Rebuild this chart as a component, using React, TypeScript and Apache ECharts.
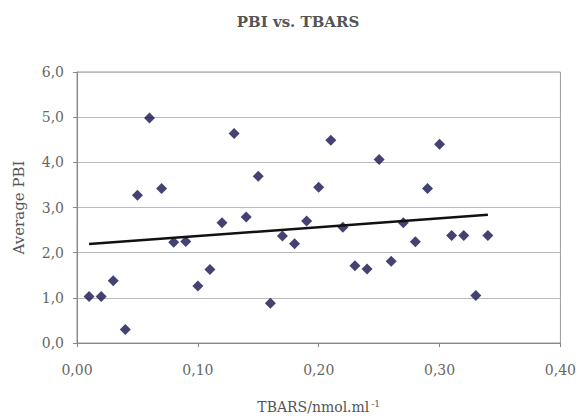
import React, { useEffect, useRef } from "react";
import * as echarts from "echarts";

const tbars = [0.01, 0.02, 0.03, 0.04, 0.05, 0.06, 0.07, 0.08, 0.09, 0.10, 0.11, 0.12, 0.13, 0.14, 0.15, 0.16, 0.17, 0.18, 0.19, 0.20, 0.21, 0.22, 0.23, 0.24, 0.25, 0.26, 0.27, 0.28, 0.29, 0.30, 0.31, 0.32, 0.33, 0.34];
const pbi = [1.03, 1.03, 1.38, 0.3, 3.27, 4.98, 3.42, 2.23, 2.25, 1.26, 1.63, 2.66, 4.64, 2.79, 3.69, 0.88, 2.37, 2.2, 2.7, 3.45, 4.49, 2.56, 1.71, 1.64, 4.06, 1.81, 2.66, 2.24, 3.42, 4.4, 2.38, 2.38, 1.05, 2.38];
const trendX = [0.01, 0.34];
const trendY = [2.19, 2.84];

const serif = "DejaVu Serif";

export default function App() {
  const ref = useRef<HTMLDivElement>(null);
  useEffect(() => {
    const chart = echarts.init(ref.current!, null, { renderer: "svg" });
    chart.setOption({
      animation: false,
      backgroundColor: "#ffffff",
      title: {
        text: "PBI vs. TBARS",
        left: 293,
        top: 9,
        textAlign: "center",
        textStyle: { fontFamily: serif, fontSize: 15, fontWeight: "bold", color: "#555" },
      },
      grid: {
        left: 77,
        right: 17,
        top: 72,
        bottom: 74,
        show: true,
        borderColor: "#999",
        borderWidth: 1,
      },
      xAxis: {
        type: "value",
        min: 0,
        max: 0.4,
        interval: 0.1,
        name: "TBARS/nmol.ml{sup|-1}",
        nameLocation: "middle",
        nameGap: 56,
        nameTextStyle: {
          fontFamily: serif,
          fontSize: 14,
          lineHeight: 16,
          color: "#555",
          rich: {
            sup: { fontFamily: serif, fontSize: 9, lineHeight: 16, color: "#555", verticalAlign: "top", padding: [0, 0, 0, 2] },
          },
        },
        axisLine: { show: true, lineStyle: { color: "#888" } },
        axisTick: { show: true, inside: false, length: 4, lineStyle: { color: "#888" } },
        splitLine: { show: false },
        axisLabel: {
          fontFamily: serif,
          fontSize: 14,
          color: "#666",
          margin: 20,
          formatter: (v: number) => v.toFixed(2).replace(".", ","),
        },
      },
      yAxis: {
        type: "value",
        min: 0,
        max: 6,
        interval: 1,
        name: "Average PBI",
        nameLocation: "middle",
        nameGap: 51,
        nameTextStyle: { fontFamily: serif, fontSize: 15, color: "#555" },
        axisLine: { show: true, lineStyle: { color: "#888" } },
        axisTick: { show: true, inside: false, length: 4, lineStyle: { color: "#888" } },
        splitLine: { show: true, lineStyle: { color: "#bbb" } },
        axisLabel: {
          fontFamily: serif,
          fontSize: 14,
          color: "#666",
          margin: 13,
          formatter: (v: number) => v.toFixed(1).replace(".", ","),
        },
      },
      series: [
        {
          type: "scatter",
          symbol: "diamond",
          symbolSize: 11,
          itemStyle: { color: "#14134f" },
          data: tbars.map((x, i) => [x, pbi[i]]),
          z: 3,
        },
        {
          type: "line",
          showSymbol: false,
          symbol: "none",
          lineStyle: { color: "#111", width: 2.5 },
          data: trendX.map((x, i) => [x, trendY[i]]),
          z: 4,
        },
      ],
    });
    return () => chart.dispose();
  }, []);
  return <div ref={ref} style={{ position: "absolute", left: 0, top: 0, width: 579, height: 420 }} />;
}
